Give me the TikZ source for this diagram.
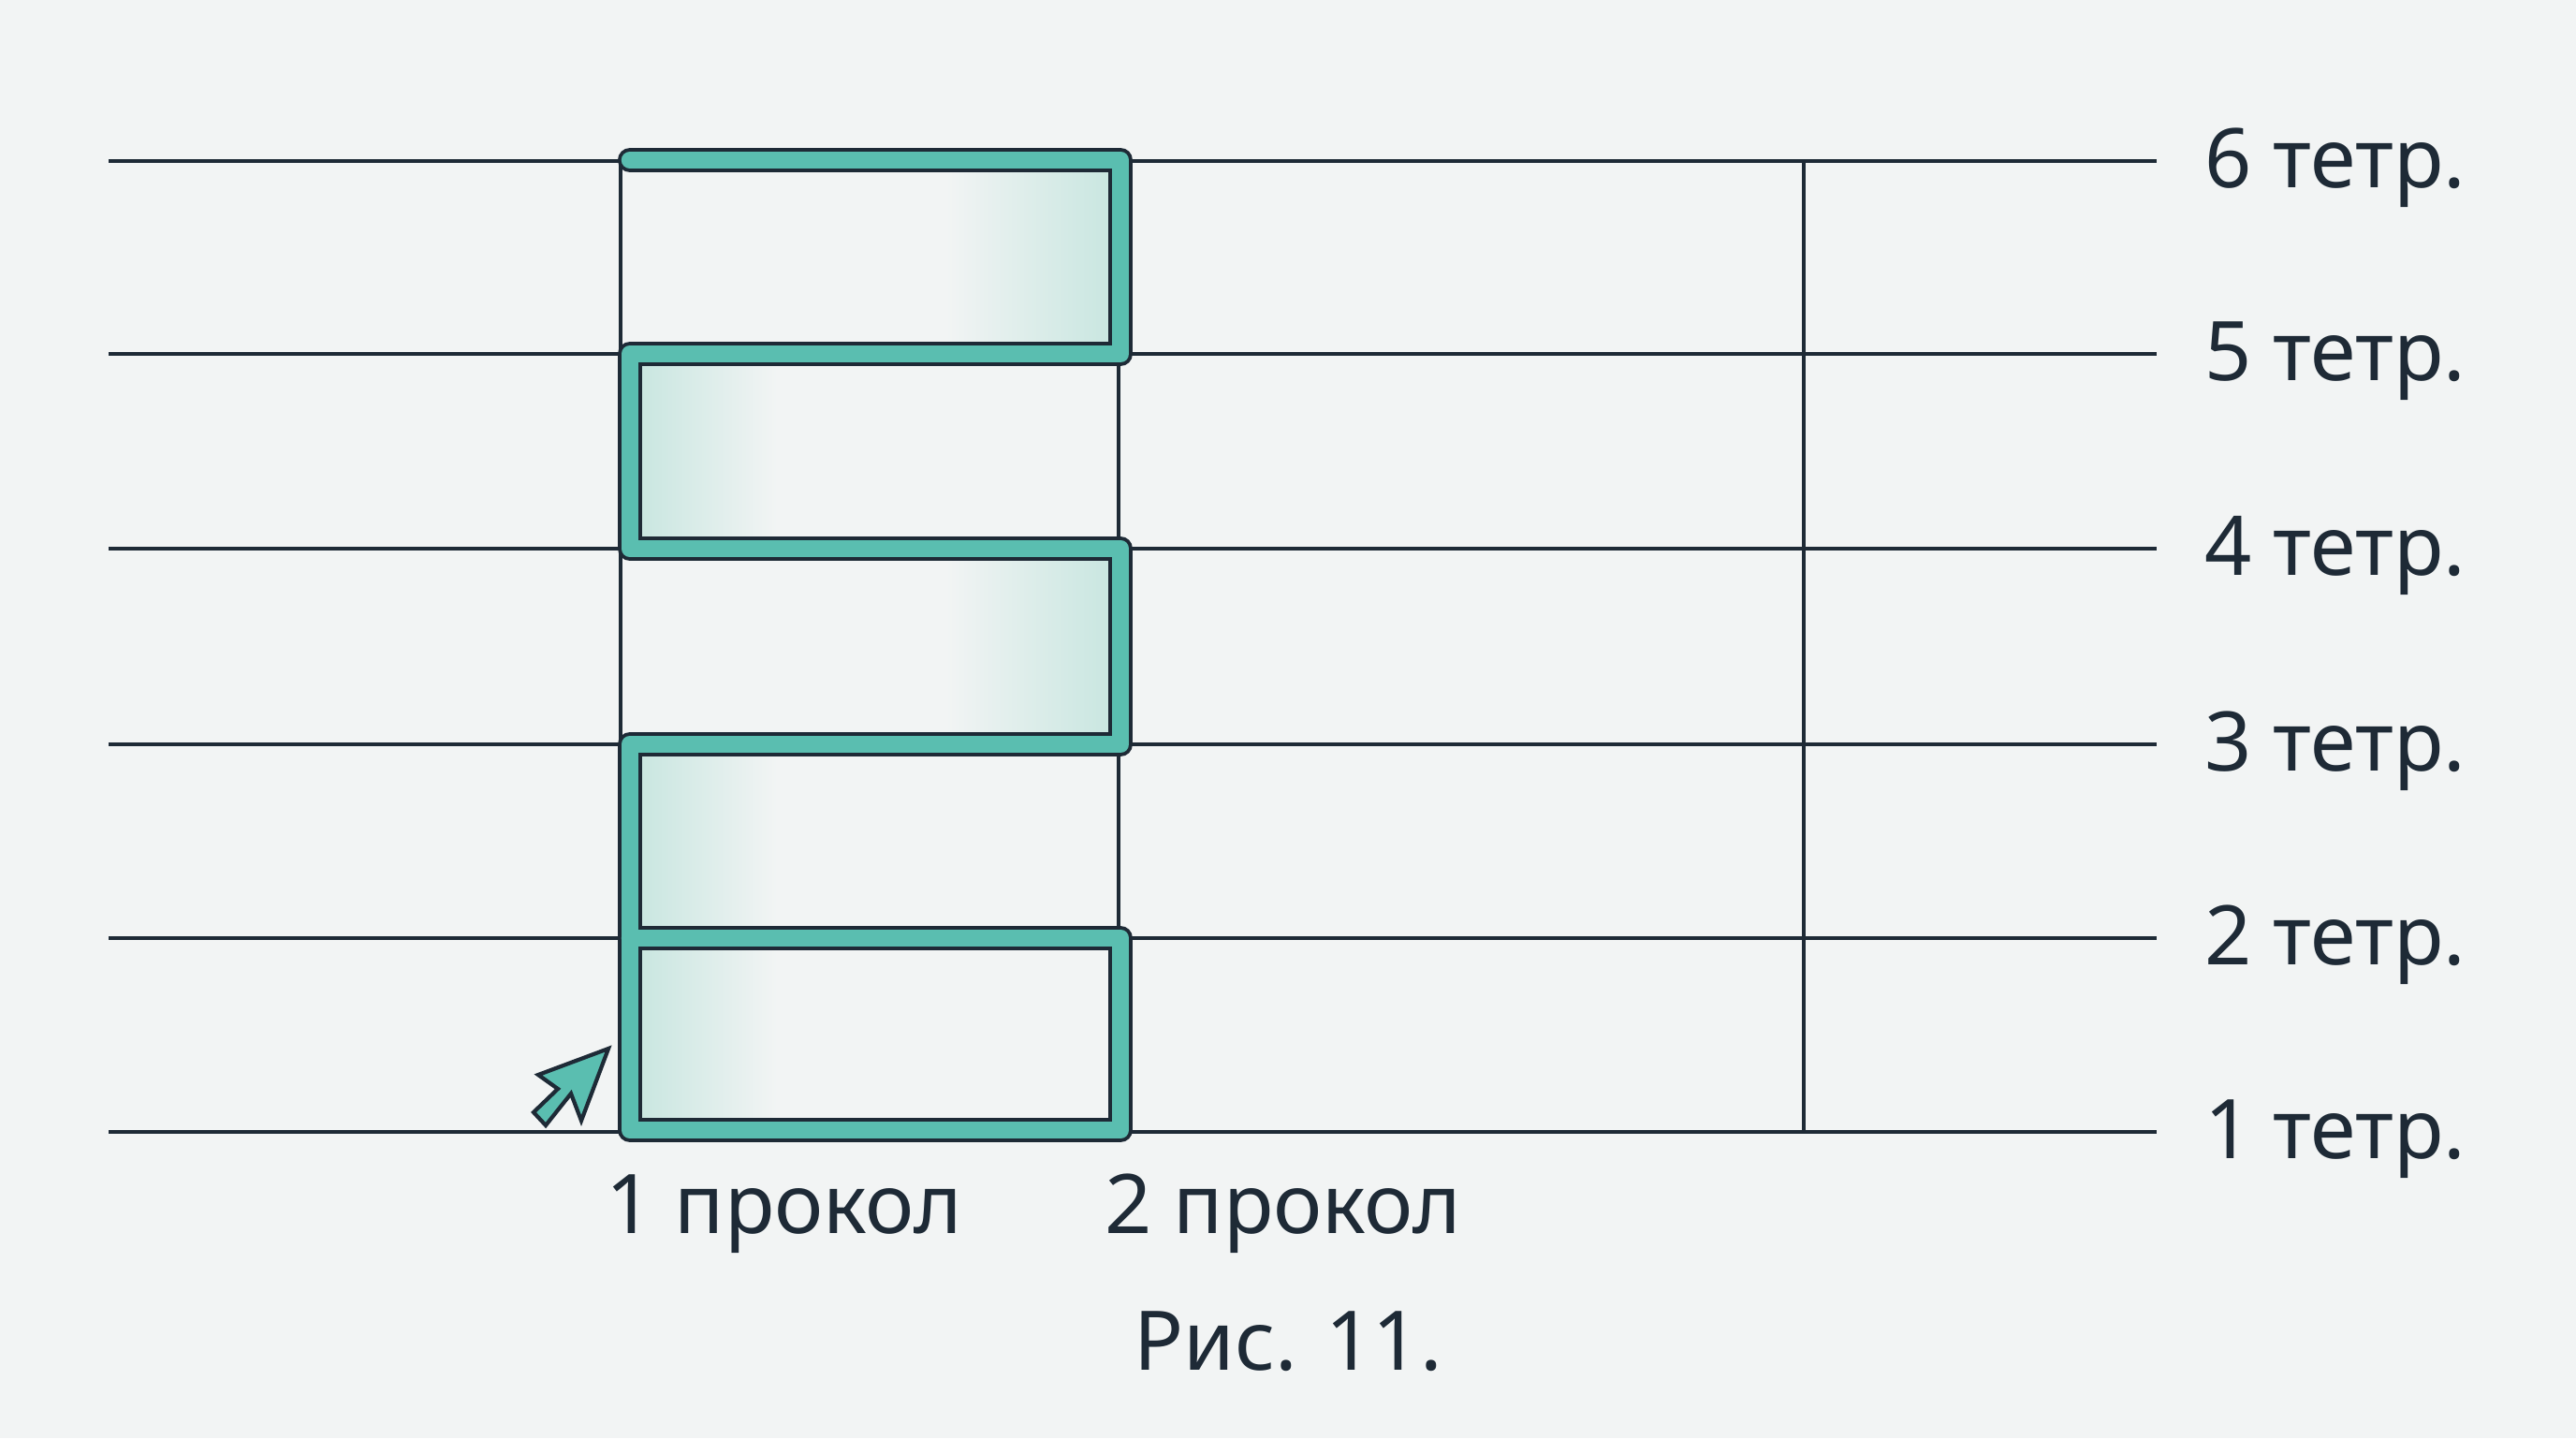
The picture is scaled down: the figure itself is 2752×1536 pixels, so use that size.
\documentclass[tikz,border=0pt]{standalone}
\usepackage{fontspec}
\setmainfont{Noto Sans}
\usepackage{tikz}
\usetikzlibrary{positioning, calc}
\definecolor{bgcolor}{RGB}{242, 244, 244}
\definecolor{inkcolor}{RGB}{30, 42, 54}
\definecolor{bandcolor}{RGB}{90, 190, 176}
\definecolor{fadecolor}{RGB}{200, 230, 224}

\begin{document}
\begin{tikzpicture}[
    x=0.01cm, y=-0.01cm,
    grid/.style={draw=inkcolor, line width=1pt},
    band/.style={draw=inkcolor, line width=0.038cm, double=bandcolor, double distance=0.185cm, line join=round, line cap=round},
    cursor/.style={draw=inkcolor, fill=bandcolor, line width=1.2pt, line join=miter},
    lbl/.style={font=\fontsize{25}{30}\selectfont, text=inkcolor, inner sep=0pt}
]
    % Background
    \fill[bgcolor] (0,0) rectangle (2752,1536);
    \useasboundingbox (0,0) rectangle (2752,1536);

    % Faded fill next to the band
    \shade[left color=bgcolor, right color=fadecolor] (1010,183) rectangle (1190,368);
    \shade[left color=fadecolor, right color=bgcolor] (680,390) rectangle (830,576);
    \shade[left color=bgcolor, right color=fadecolor] (1010,598) rectangle (1190,785);
    \shade[left color=fadecolor, right color=bgcolor] (680,807) rectangle (830,992);
    \shade[left color=fadecolor, right color=bgcolor] (680,1014) rectangle (830,1197);

    % Horizontal lines
    \draw[grid] (116,172) -- (2304,172);
    \draw[grid] (116,378) -- (2304,378);
    \draw[grid] (116,586) -- (2304,586);
    \draw[grid] (116,795) -- (2304,795);
    \draw[grid] (116,1002) -- (2304,1002);
    \draw[grid] (116,1209) -- (2304,1209);

    % Vertical lines
    \draw[grid] (663,172) -- (663,1209);
    \draw[grid] (1195,172) -- (1195,1209);
    \draw[grid] (1927,172) -- (1927,1209);

    % Stitch path
    \draw[band] (673,1002) -- (1197,1002) -- (1197,1207) -- (673,1207) -- (673,795)
        -- (1197,795) -- (1197,586) -- (673,586) -- (673,378) -- (1197,378)
        -- (1197,171) -- (673,171);

    % Start marker
    \draw[cursor] (650,1120) -- (575,1148) -- (596,1163) -- (570,1188) -- (583,1202)
        -- (610,1168) -- (621,1197) -- cycle;

    % Row labels
    \node[lbl, anchor=base west] (t6) at (2355,200) {6 тетр.};
    \node[lbl, anchor=base west] (t5) at (2355,406) {5 тетр.};
    \node[lbl, anchor=base west] (t4) at (2355,614) {4 тетр.};
    \node[lbl, anchor=base west] (t3) at (2355,823) {3 тетр.};
    \node[lbl, anchor=base west] (t2) at (2355,1030) {2 тетр.};
    \node[lbl, anchor=base west] (t1) at (2355,1237) {1 тетр.};

    % Column labels
    \node[lbl, anchor=base] (p1) at (838,1317) {1 прокол};
    \node[lbl, anchor=base] (p2) at (1371,1317) {2 прокол};

    % Caption
    \node[lbl, anchor=base] (cap) at (1376,1463) {Рис. 11.};

\end{tikzpicture}
\end{document}
